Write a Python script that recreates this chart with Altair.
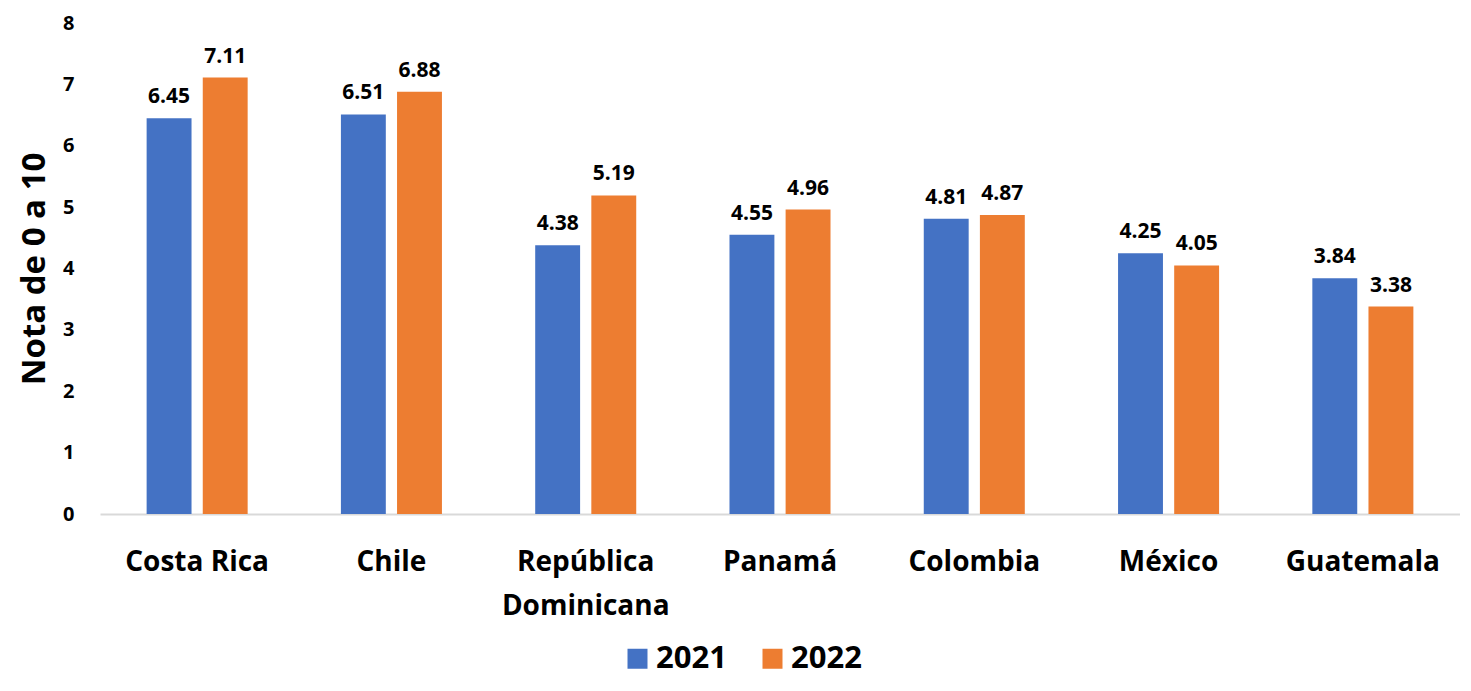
import altair as alt
import pandas as pd

countries = ["Costa Rica", "Chile", "República Dominicana", "Panamá", "Colombia", "México", "Guatemala"]
v2021 = [6.45, 6.51, 4.38, 4.55, 4.81, 4.25, 3.84]
v2022 = [7.11, 6.88, 5.19, 4.96, 4.87, 4.05, 3.38]
years = ["2021", "2022"]
colors = ["#4472C4", "#ED7D31"]

rows = []
for c, a, b in zip(countries, v2021, v2022):
    rows.append({"pais": c, "anio": "2021", "valor": a})
    rows.append({"pais": c, "anio": "2022", "valor": b})
df = pd.DataFrame(rows)

FONT = "Open Sans"

x = alt.X("pais:N", sort=countries, title=None,
          scale=alt.Scale(paddingInner=0.48, paddingOuter=0.24),
          axis=alt.Axis(labelAngle=0, labelFontSize=28, labelFontWeight="bold",
                        labelColor="#000000", labelFont=FONT, ticks=False,
                        domainColor="#D9D9D9", domainWidth=2, labelPadding=34,
                        labelLineHeight=44,
                        labelExpr="datum.value == 'República Dominicana' ? ['República', 'Dominicana'] : datum.label"))
y = alt.Y("valor:Q", title="Nota de 0 a 10",
          scale=alt.Scale(domain=[0, 8], nice=False),
          axis=alt.Axis(values=list(range(0, 9)), grid=False, domain=False, ticks=False,
                        labelFontSize=20, labelFontWeight="bold", labelColor="#000000",
                        labelFont=FONT, labelPadding=26, titleFontSize=33,
                        titleFont=FONT, titleFontWeight="bold", titleColor="#000000",
                        titlePadding=11))
xoff = alt.XOffset("anio:N", scale=alt.Scale(paddingInner=0.2))

base = alt.Chart(df).encode(x=x, xOffset=xoff, y=y)

bars = base.mark_bar().encode(
    color=alt.Color("anio:N", scale=alt.Scale(domain=years, range=colors),
                    legend=alt.Legend(title=None, orient="none", direction="horizontal",
                                      legendX=522, legendY=620,
                                      labelFontSize=31, labelFontWeight="bold", labelFont=FONT,
                                      labelColor="#000000", symbolType="square", symbolSize=400,
                                      symbolStrokeWidth=0, columnPadding=30, labelOffset=3))
)
labels = base.mark_text(dy=-21, baseline="middle", fontSize=21, fontWeight="bold", font=FONT,
                        color="#000000").encode(
    text=alt.Text("valor:Q", format=".2f")
)

chart = (bars + labels).properties(
    width=1360, height=491,
    padding={"left": 10, "top": 5, "right": 0, "bottom": 4}
).configure_view(stroke=None)

chart.save("out.html", embed_options={"renderer": "svg", "actions": False})
